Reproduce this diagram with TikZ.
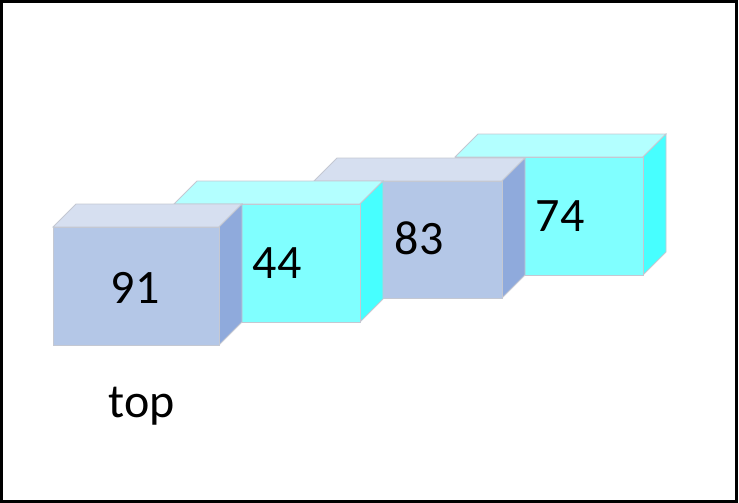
\documentclass[tikz,border=0pt]{standalone}
\usepackage{fontspec}
\setmainfont{Carlito}

\begin{document}
\begin{tikzpicture}[x=1pt,y=1pt,yscale=-1,
  edge/.style={draw={rgb,255:red,196;green,200;blue,210},line width=0.75},
  bluefront/.style={edge,fill={rgb,255:red,180;green,199;blue,231}},
  bluetop/.style={edge,fill={rgb,255:red,214;green,223;blue,240}},
  blueside/.style={edge,fill={rgb,255:red,143;green,170;blue,220}},
  cyanfront/.style={edge,fill={rgb,255:red,128;green,255;blue,255}},
  cyantop/.style={edge,fill={rgb,255:red,179;green,255;blue,255}},
  cyanside/.style={edge,fill={rgb,255:red,71;green,255;blue,255}},
  val/.style={anchor=base,font=\fontsize{48}{58}\selectfont}]
\useasboundingbox (0,0) rectangle (739,503);

%Shape: Frame
\draw [line width=2.5] (1.5,1.5) rectangle (736.5,501.5) ;

%Shape: Cube 74
\draw [cyantop] (455,157) -- (478,134) -- (666,134) -- (643,157) -- cycle ;
\draw [cyanside] (643,157) -- (666,134) -- (666,252) -- (643,275) -- cycle ;
\draw [cyanfront] (455,157) rectangle (643,275) ;

%Shape: Cube 83
\draw [bluetop] (314,181) -- (337,158) -- (525,158) -- (502,181) -- cycle ;
\draw [blueside] (502,181) -- (525,158) -- (525,275) -- (502,298) -- cycle ;
\draw [bluefront] (314,181) rectangle (502,298) ;

%Shape: Cube 44
\draw [cyantop] (174,204) -- (197,181) -- (383,181) -- (360,204) -- cycle ;
\draw [cyanside] (360,204) -- (383,181) -- (383,299) -- (360,322) -- cycle ;
\draw [cyanfront] (174,204) rectangle (360,322) ;

%Shape: Cube 91
\draw [bluetop] (53,227) -- (76,204) -- (242,204) -- (219,227) -- cycle ;
\draw [blueside] (219,227) -- (242,204) -- (242,322) -- (219,345) -- cycle ;
\draw [bluefront] (53,227) rectangle (219,345) ;

% Text Node
\node [val] (v91) at (135,303) {91};
% Text Node
\node [val] (v44) at (277,278) {44};
% Text Node
\node [val] (v83) at (419,254) {83};
% Text Node
\node [val] (v74) at (560,231) {74};
% Text Node
\node [val] (ltop) at (142,417) {top};

\end{tikzpicture}
\end{document}
